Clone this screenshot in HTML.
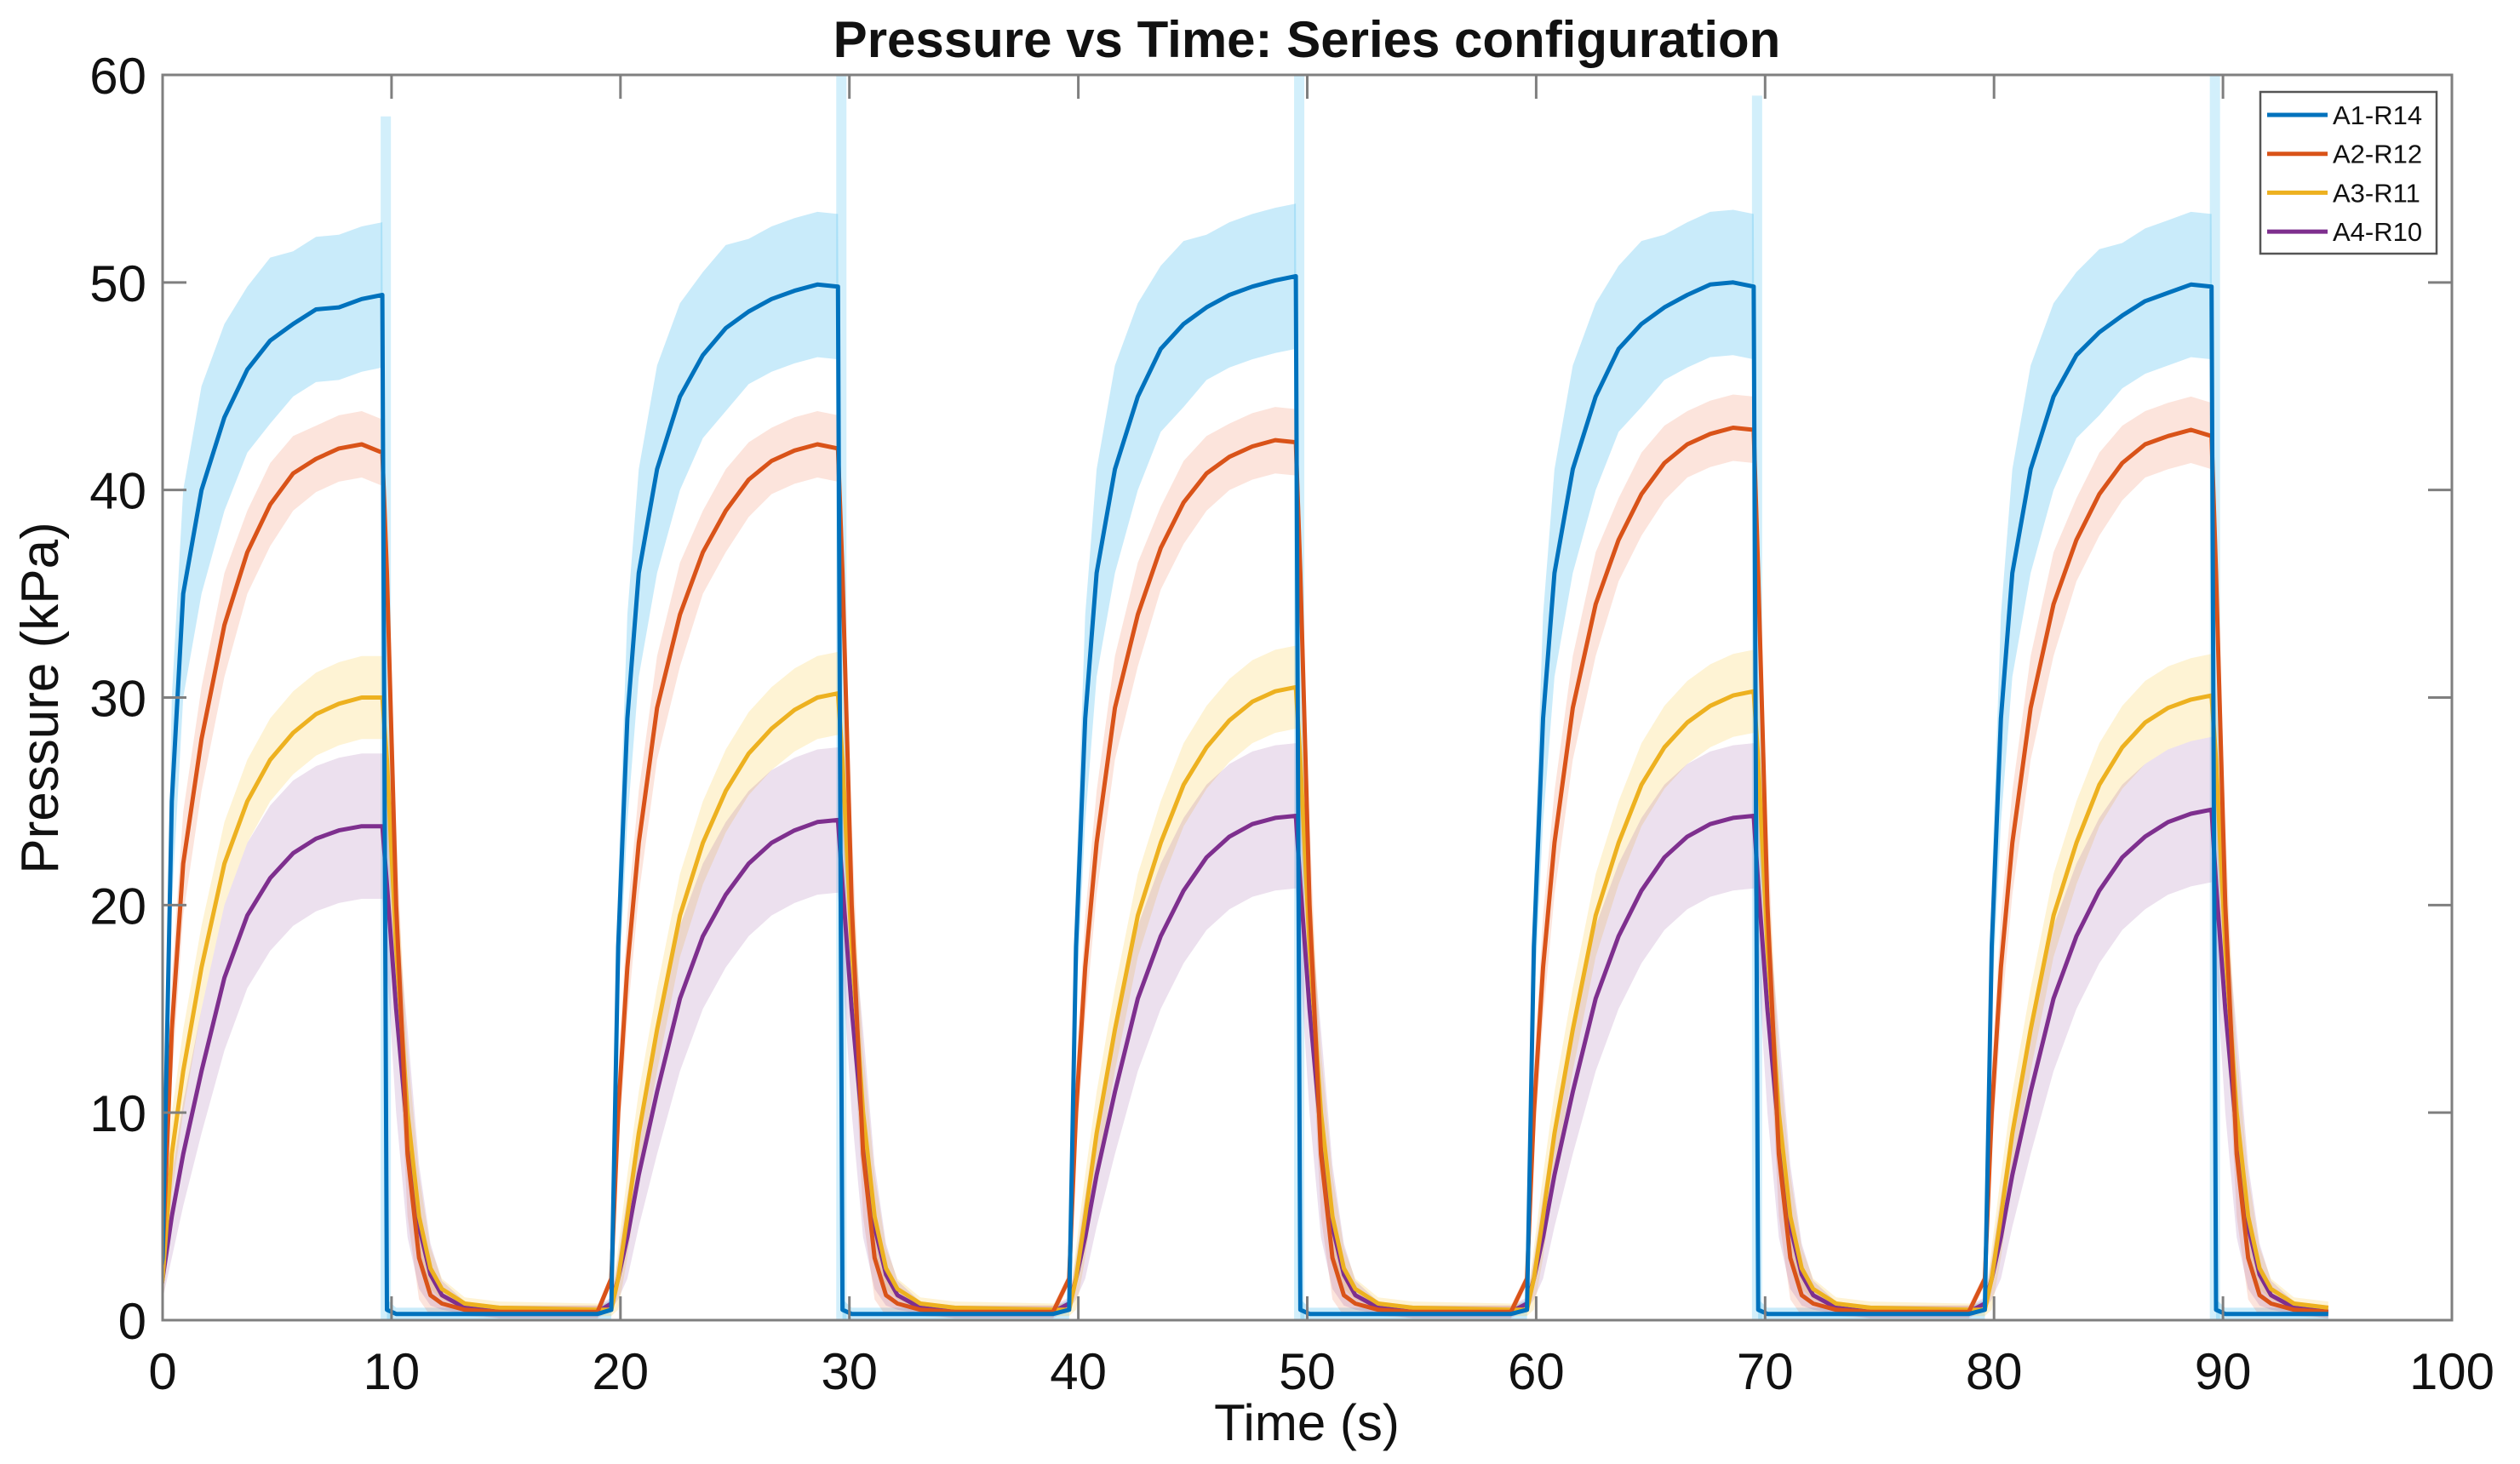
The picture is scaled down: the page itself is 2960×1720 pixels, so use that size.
<!DOCTYPE html>
<html><head><meta charset="utf-8"><style>
html,body{margin:0;padding:0;background:#fff}
svg{display:block}
text{font-family:"Liberation Sans",Arial,sans-serif;fill:#111}
</style></head><body>
<svg id="chart" width="2960" height="1720" viewBox="0 0 2960 1720" xmlns="http://www.w3.org/2000/svg">
<defs><clipPath id="plotclip"><rect x="191" y="88" width="2689" height="1463"/></clipPath></defs>
<rect x="0" y="0" width="2960" height="1720" fill="#fff"/>
<text x="1535" y="67" text-anchor="middle" font-size="60" font-weight="bold">Pressure vs Time: Series configuration</text>
<g id="bands" clip-path="url(#plotclip)"></g>
<g id="lines" clip-path="url(#plotclip)"></g>
<g id="axes"></g>
<text x="1535" y="1692" text-anchor="middle" font-size="60">Time (s)</text>
<text transform="translate(68,820) rotate(-90)" text-anchor="middle" font-size="62">Pressure (kPa)</text>
<g id="legend"></g>
</svg>
<script>
// ---- data ----
const xTicks = [0,10,20,30,40,50,60,70,80,90,100];
const yTicks = [0,10,20,30,40,50,60];
const seriesNames = ["A1-R14","A2-R12","A3-R11","A4-R10"];
const cycleStarts = [-0.3,19.6,39.6,59.6,79.6];
const cycleOffsets = [0,0.3,0.7,1.2,2,3,4,5,6,7,8,9,9.9,10.1,10.5,11,11.5,12,12.5,13.5,15,19.3];
const dataEnd = 95;
const spikeTops = [58,60,60,59,60];
const blueC1 = [0,3,25,35,40,43.5,45.8,47.2,48,48.7,48.8,49.2,49.4,0.5,0.3,0.3,0.3,0.3,0.3,0.3,0.3,0.3];
const blueC2 = [0.5,18,29,36,41,44.5,46.5,47.8,48.6,49.2,49.6,49.9,49.8,0.5,0.3,0.3,0.3,0.3,0.3,0.3,0.3,0.3];
const blueC3 = [0.5,18,29,36,41,44.5,46.8,48,48.8,49.4,49.8,50.1,50.3,0.5,0.3,0.3,0.3,0.3,0.3,0.3,0.3,0.3];
const blueC4 = [0.5,18,29,36,41,44.5,46.8,48,48.8,49.4,49.9,50,49.8,0.5,0.3,0.3,0.3,0.3,0.3,0.3,0.3,0.3];
const blueC5 = [0.5,18,29,36,41,44.5,46.5,47.6,48.4,49.1,49.5,49.9,49.8,0.5,0.3,0.3,0.3,0.3,0.3,0.3,0.3,0.3];
const redC1 = [0,3,14,22,28,33.5,37,39.3,40.8,41.5,42,42.2,41.8,36,20,8,3,1.2,0.8,0.5,0.4,0.4];
const redC2 = [2,10,17,23,29.5,34,37,39,40.5,41.4,41.9,42.2,42,36,20,8,3,1.2,0.8,0.5,0.4,0.4];
const redC3 = [2,10,17,23,29.5,34,37.2,39.4,40.8,41.6,42.1,42.4,42.3,36,20,8,3,1.2,0.8,0.5,0.4,0.4];
const redC4 = [2,10,17,23,29.5,34.5,37.6,39.8,41.3,42.2,42.7,43,42.9,36,20,8,3,1.2,0.8,0.5,0.4,0.4];
const redC5 = [2,10,17,23,29.5,34.5,37.6,39.8,41.3,42.2,42.6,42.9,42.6,36,20,8,3,1.2,0.8,0.5,0.4,0.4];
const yelC1 = [0,2,8,12,17,22,25,27,28.3,29.2,29.7,30,30,27,18,10,5,2.5,1.5,0.8,0.6,0.5];
const yelC2 = [0.5,2,5,9,14,19.5,23,25.5,27.3,28.5,29.4,30,30.2,27,18,10,5,2.5,1.5,0.8,0.6,0.5];
const yelC3 = [0.5,2,5,9,14,19.5,23,25.8,27.6,28.9,29.8,30.3,30.5,27,18,10,5,2.5,1.5,0.8,0.6,0.5];
const yelC4 = [0.5,2,5,9,14,19.5,23,25.8,27.6,28.8,29.6,30.1,30.3,27,18,10,5,2.5,1.5,0.8,0.6,0.5];
const yelC5 = [0.5,2,5,9,14,19.5,23,25.8,27.6,28.8,29.5,29.9,30.1,27,18,10,5,2.5,1.5,0.8,0.6,0.7];
const purC1 = [0,2,5,8,12,16.5,19.5,21.3,22.5,23.2,23.6,23.8,23.8,21,15,9,4.5,2.2,1.2,0.6,0.4,0.4];
const purC2 = [0.8,2,4,7,11,15.5,18.5,20.5,22,23,23.6,24,24.1,21,15,9,4.5,2.2,1.2,0.6,0.4,0.4];
const purC3 = [0.8,2,4,7,11,15.5,18.5,20.7,22.3,23.3,23.9,24.2,24.3,21,15,9,4.5,2.2,1.2,0.6,0.4,0.4];
const purC4 = [0.8,2,4,7,11,15.5,18.5,20.7,22.3,23.3,23.9,24.2,24.3,21,15,9,4.5,2.2,1.2,0.6,0.4,0.4];
const purC5 = [0.8,2,4,7,11,15.5,18.5,20.7,22.3,23.3,24,24.4,24.6,21,15,9,4.5,2.2,1.2,0.6,0.4,0.4];
const blueBand = [0.5,3,5,5,5,4.5,4,4,3.5,3.5,3.5,3.5,3.5,0.5,0.3,0.3,0.3,0.3,0.3,0.3,0.3,0.3];
const redBand = [0.3,2,2.5,2.5,2.5,2.5,2,2,1.8,1.6,1.6,1.6,1.6,3,4,3,2,1,0.5,0.3,0.3,0.3];
const yelBand = [0.3,1.5,2,2,2,2,2,2,2,2,2,2,2,3,4,3,2,1,0.5,0.3,0.3,0.3];
const purBand = [0.3,1,2,2.5,3,3.5,3.5,3.5,3.5,3.5,3.5,3.5,3.5,4,5,5,3,1.5,0.7,0.3,0.3,0.3];

// ---- layout ----
const X0=191, X1=2880, Y0=1551, Y1=88;
const xs = t => X0 + (t-0)/(100-0)*(X1-X0);
const ys = v => Y0 - (v-0)/(60-0)*(Y0-Y1);
const NS="http://www.w3.org/2000/svg";
function mk(tag, attrs, parent){const e=document.createElementNS(NS,tag);for(const k in attrs)e.setAttribute(k,attrs[k]);parent.appendChild(e);return e;}

const seriesCycles = [[blueC1,blueC2,blueC3,blueC4,blueC5],[redC1,redC2,redC3,redC4,redC5],[yelC1,yelC2,yelC3,yelC4,yelC5],[purC1,purC2,purC3,purC4,purC5]];
const seriesBands = [blueBand,redBand,yelBand,purBand];
const lineColors = ["#0072BD","#D95319","#EDB120","#7E2F8E"];
const bandColors = ["rgba(77,190,238,0.30)","rgba(240,120,80,0.20)","rgba(250,200,60,0.22)","rgba(126,47,142,0.15)"];
const keys = ["a1-r14","a2-r12","a3-r11","a4-r10"];

function points(si){
  const pts=[];
  cycleStarts.forEach((s,ci)=>{
    cycleOffsets.forEach((o,j)=>{
      const t=s+o;
      if(t<=dataEnd && (ci===cycleStarts.length-1 || t<cycleStarts[ci+1])) pts.push([t,seriesCycles[si][ci][j],seriesBands[si][j]]);
    });
  });
  return pts;
}

const bandsG=document.getElementById('bands');
const linesG=document.getElementById('lines');
cycleStarts.forEach((s,ci)=>{
  const t=s+cycleOffsets[12];
  const r=mk('rect',{x:xs(t)-2,y:ys(spikeTops[ci]),width:12,height:ys(0)-ys(spikeTops[ci]),fill:"rgba(77,190,238,0.25)"},bandsG);
  
  
});
for(let si=0;si<4;si++){
  const pts=points(si);
  let up=pts.map(p=>xs(p[0]).toFixed(1)+','+ys(p[1]+p[2]).toFixed(1));
  let lo=pts.slice().reverse().map(p=>xs(p[0]).toFixed(1)+','+ys(Math.max(0,p[1]-p[2])).toFixed(1));
  const b=mk('polygon',{points:up.concat(lo).join(' '),fill:bandColors[si]},bandsG);
  
  
}
for(let si=3;si>=0;si--){
  const pts=points(si);
  const l=mk('polyline',{points:pts.map(p=>xs(p[0]).toFixed(1)+','+ys(p[1]).toFixed(1)).join(' '),fill:'none',stroke:lineColors[si],'stroke-width':5,'stroke-linejoin':'round'},linesG);
  
  
}

const ax=document.getElementById('axes');
const box=mk('rect',{x:X0,y:Y1,width:X1-X0,height:Y0-Y1,fill:'none',stroke:'#7f7f7f','stroke-width':3},ax);


xTicks.forEach(t=>{
  const x=xs(t);
  mk('line',{x1:x,y1:Y0,x2:x,y2:Y0-28,stroke:'#7f7f7f','stroke-width':3},ax);
  mk('line',{x1:x,y1:Y1,x2:x,y2:Y1+28,stroke:'#7f7f7f','stroke-width':3},ax);
  const tx=mk('text',{x:x,y:1632,'text-anchor':'middle','font-size':60},ax);
  tx.textContent=t;
  
  
});
yTicks.forEach(v=>{
  const y=ys(v);
  mk('line',{x1:X0,y1:y,x2:X0+28,y2:y,stroke:'#7f7f7f','stroke-width':3},ax);
  mk('line',{x1:X1,y1:y,x2:X1-28,y2:y,stroke:'#7f7f7f','stroke-width':3},ax);
  const tx=mk('text',{x:172,y:y+22,'text-anchor':'end','font-size':60},ax);
  tx.textContent=v;
  
  
});

const lg=document.getElementById('legend');
const lbox=mk('rect',{x:2655,y:108,width:207,height:190,fill:'#fff',stroke:'#555','stroke-width':2.5},lg);


seriesNames.forEach((n,i)=>{
  const y=135+i*45.7;
  const g=mk('g',{},lg);
  
  
  mk('line',{x1:2663,y1:y,x2:2734,y2:y,stroke:lineColors[i],'stroke-width':5},g);
  const t=mk('text',{x:2740,y:y+11,'font-size':31},g);
  t.textContent=n;
});
</script>
</body></html>
